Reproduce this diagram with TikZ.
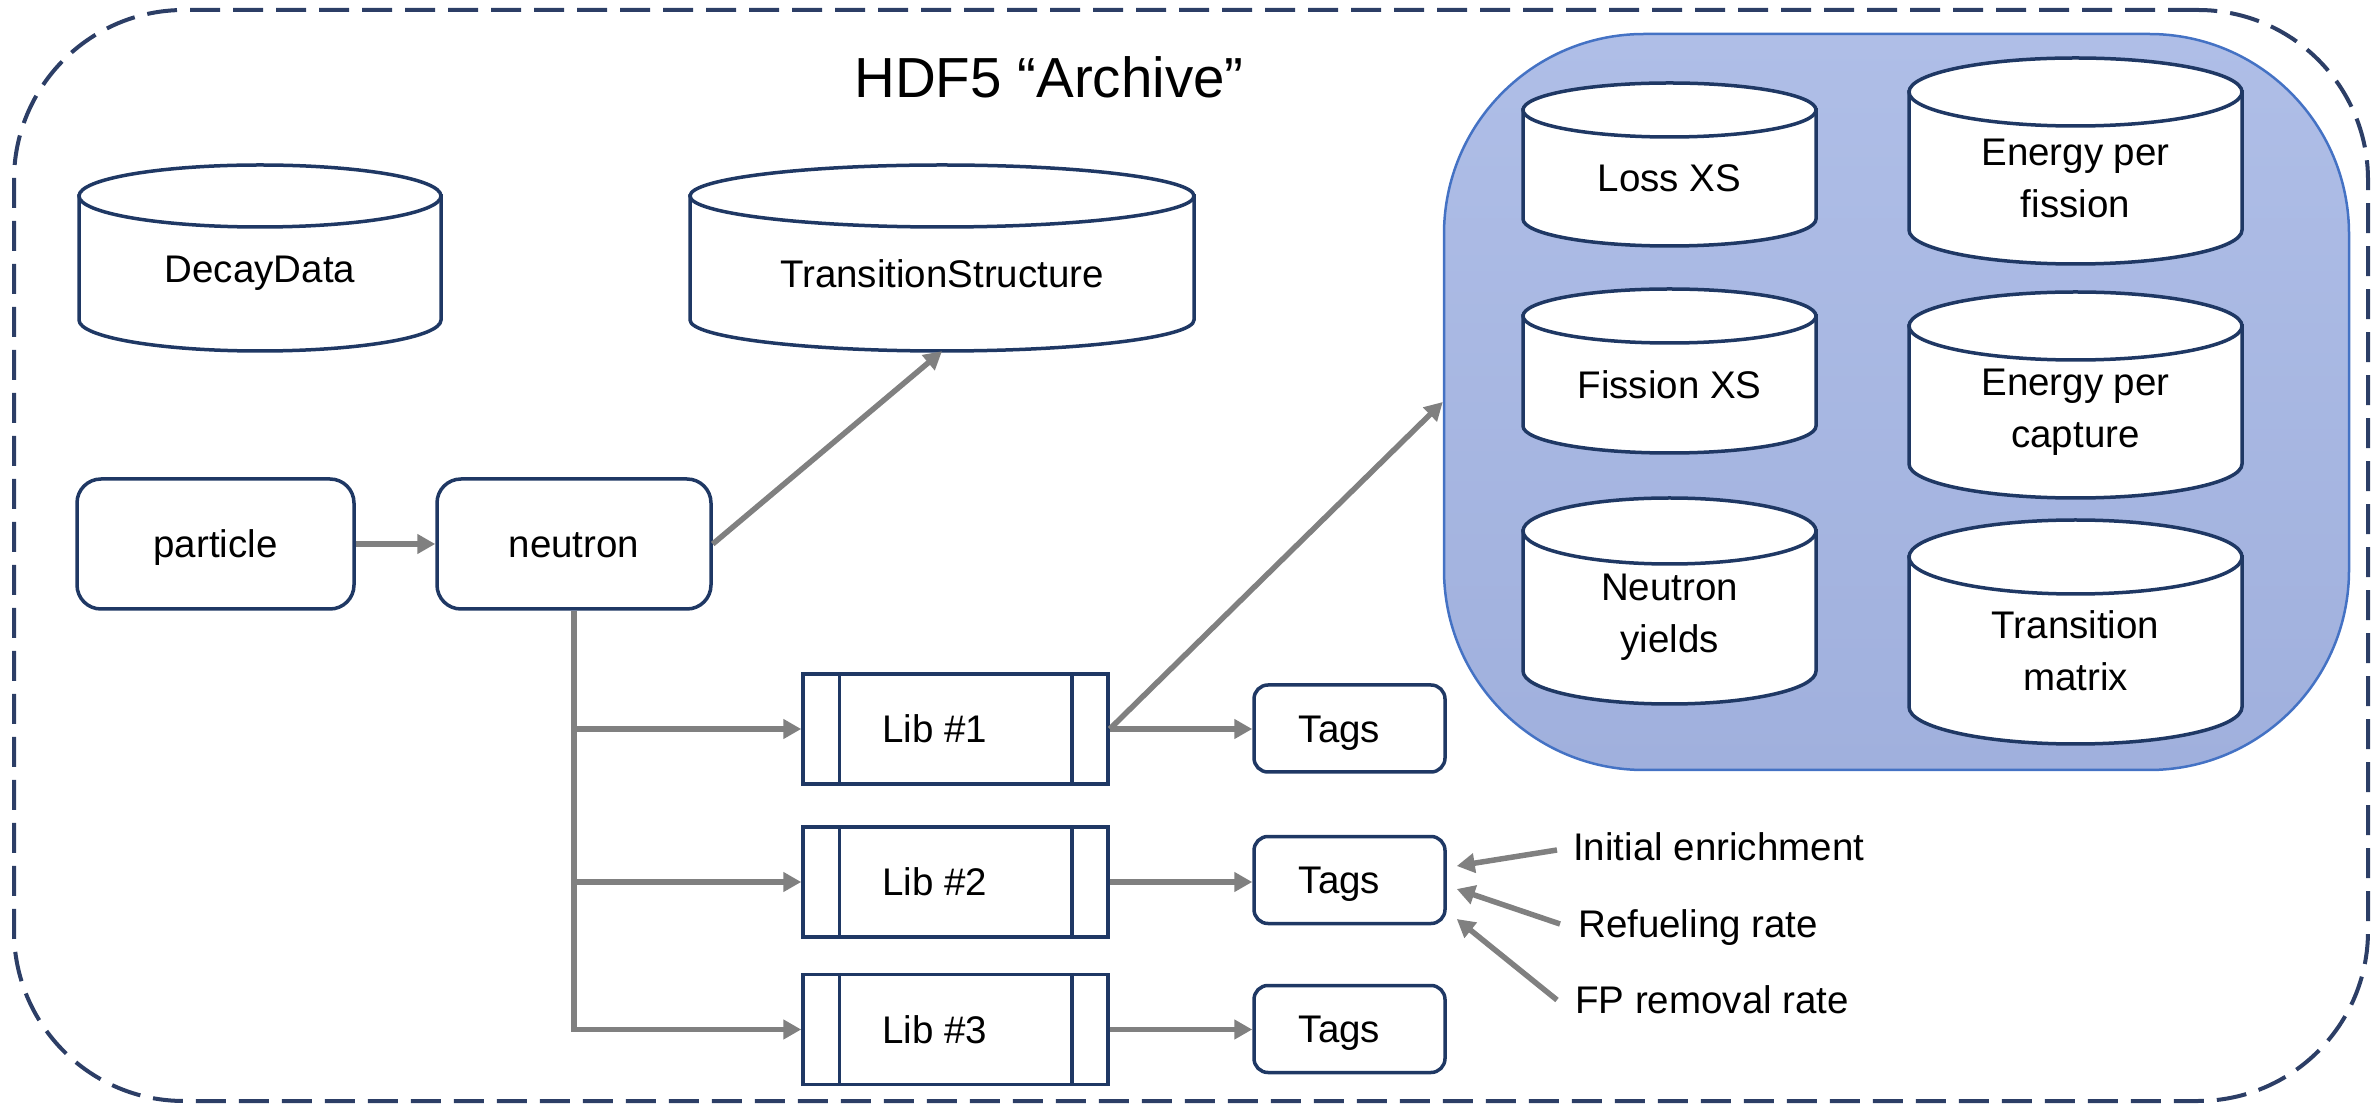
\documentclass[tikz,border=0pt]{standalone}
\usepackage{fontspec}
\setmainfont{Liberation Sans}
\usetikzlibrary{arrows.meta,calc}
\definecolor{navy}{HTML}{1F3864}
\definecolor{frameblue}{HTML}{2C3E66}
\definecolor{arrgray}{HTML}{808080}
\definecolor{grpborder}{HTML}{4472C4}
\definecolor{grptop}{HTML}{AFBEE7}
\definecolor{grpbot}{HTML}{A0B0DD}
\newcommand{\dbcyl}[7]{%
  \pgfmathsetmacro{\cyYc}{1104-#4-#6}%
  \pgfmathsetmacro{\cyYb}{1104-#5+#6}%
  \pgfmathsetmacro{\cyYbot}{1104-#5}%
  \pgfmathsetmacro{\cyx}{#2-#3/2}%
  \pgfmathsetmacro{\cyxx}{#2+#3/2}%
  \pgfmathsetmacro{\cyrx}{#3/2}%
  \pgfmathsetmacro{\cyH}{\cyYc-\cyYbot}%
  \pgfmathsetmacro{\cyM}{(\cyYc+\cyYbot)/2}%
  \draw[cylline] (\cyx,\cyYc) -- (\cyx,\cyYb) arc[start angle=180,end angle=360,x radius=\cyrx,y radius=#6] -- (\cyxx,\cyYc) -- cycle;
  \draw[cylline] (#2,\cyYc) ellipse[x radius=\cyrx, y radius=#6];
  \node[cyltext, minimum width=#3pt, minimum height=\cyH pt] (#1) at (#2,\cyM) {#7};
}
\begin{document}
\begin{tikzpicture}[x=1pt,y=1pt,
  every node/.style={font=\fontsize{38.5}{52}\selectfont, text=black},
  roundbox/.style={draw=navy, line width=3.5pt, fill=white, rounded corners=24pt, inner sep=0pt, minimum height=130pt, text height=27.5pt, text depth=0pt},
  tagbox/.style={draw=navy, line width=3.5pt, fill=white, rounded corners=14pt, inner sep=0pt, minimum width=191pt, minimum height=87pt, text height=27.5pt, text depth=0pt},
  libbox/.style={draw=navy, line width=3.5pt, fill=white, inner sep=0pt, minimum width=305pt, minimum height=110pt, text height=27.5pt, text depth=0pt},
  libline/.style={draw=navy, line width=3.5pt},
  cylline/.style={draw=navy, line width=3.5pt, fill=white},
  cyltext/.style={inner sep=0pt, align=center},
  arr/.style={draw=arrgray, line width=5.5pt, -{Triangle[length=18pt,width=19pt]}},
  lbl/.style={inner sep=0pt, anchor=west, text height=27.5pt, text depth=0pt},
]
\useasboundingbox (0,0) rectangle (2372,1104);

% outer dashed frame
\node[draw=frameblue, line width=4pt, dash pattern=on 30pt off 13pt, rounded corners=170pt,
      minimum width=2354pt, minimum height=1091pt, inner sep=0pt] (frame) at (1191,548.5) {};
\node[font=\fontsize{56.5}{60}\selectfont, inner sep=0pt, text height=40.5pt, text depth=0pt] (title) at (1049,1027) {HDF5 “Archive”};

% blue group
\node[draw=grpborder, line width=2.5pt, rounded corners=200pt, top color=grptop, bottom color=grpbot,
      minimum width=905pt, minimum height=736pt, inner sep=0pt] (grp) at (1896.5,702) {};

% cylinders
\dbcyl{decay}{260}{362}{165}{351}{31}{DecayData}
\dbcyl{trans}{942}{504}{165}{351}{31}{TransitionStructure}
\dbcyl{lossxs}{1669.5}{293}{83}{246}{27}{Loss XS}
\dbcyl{epf}{2075.5}{333}{58}{264}{34}{Energy per\\fission}
\dbcyl{fisxs}{1669.5}{293}{289}{453}{27}{Fission XS}
\dbcyl{epc}{2075.5}{333}{292}{498}{34}{Energy per\\capture}
\dbcyl{ny}{1669.5}{293}{498}{704}{33}{Neutron\\yields}
\dbcyl{tm}{2075.5}{333}{520}{744}{37}{Transition\\matrix}

% boxes
\node[roundbox, minimum width=277pt] (particle) at (215.5,560) {particle};
\node[roundbox, minimum width=274pt] (neutron) at (574,560) {neutron};

\node[libbox] (lib1) at (955.5,375) {\hspace*{-42pt}Lib \#1};
\node[libbox] (lib2) at (955.5,222) {\hspace*{-42pt}Lib \#2};
\node[libbox] (lib3) at (955.5,74.5) {\hspace*{-42pt}Lib \#3};
\foreach \L in {lib1,lib2,lib3}{
  \draw[libline] ([xshift=38pt]\L.north west) -- ([xshift=38pt]\L.south west);
  \draw[libline] ([xshift=-38pt]\L.north east) -- ([xshift=-38pt]\L.south east);
}

\node[tagbox] (tags1) at (1349.5,375.5) {\hspace*{-20pt}Tags};
\node[tagbox] (tags2) at (1349.5,224) {\hspace*{-20pt}Tags};
\node[tagbox] (tags3) at (1349.5,75) {\hspace*{-20pt}Tags};

\node[lbl] (ie) at (1573,257) {Initial enrichment};
\node[lbl] (rr) at (1578,180) {Refueling rate};
\node[lbl] (fp) at (1575,104) {FP removal rate};

% connectors
\draw[arr] (particle.east) -- (neutron.west);
\draw[arr] (neutron.east) -- (trans.south);
\draw[arr] (neutron.south) |- (lib1.west);
\draw[arr] (neutron.south) |- (lib2.west);
\draw[arr] (neutron.south) |- (lib3.west);
\draw[arr] (lib1.east) -- (grp.west);
\draw[arr] (lib1.east) -- (lib1.east -| tags1.west);
\draw[arr] (lib2.east) -- (lib2.east -| tags2.west);
\draw[arr] (lib3.east) -- (lib3.east -| tags3.west);
\draw[arr] ([xshift=-16pt,yshift=-3pt]ie.west) -- ([xshift=10pt,yshift=14pt]tags2.east);
\draw[arr] ([xshift=-18pt]rr.west) -- ([xshift=10pt,yshift=-9pt]tags2.east);
\draw[arr] ([xshift=-18pt]fp.west) -- ([xshift=10pt,yshift=-39pt]tags2.east);
\end{tikzpicture}
\end{document}
